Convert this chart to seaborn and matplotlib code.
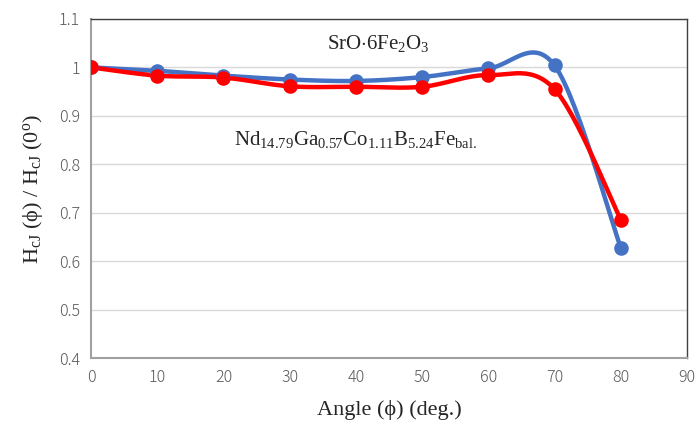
import numpy as np
import pandas as pd
import matplotlib
matplotlib.use("Agg")
import matplotlib.pyplot as plt
import seaborn as sns

# Données
angles = [0, 10, 20, 30, 40, 50, 60, 70, 80]
ferrite = [1.000, 0.993, 0.983, 0.975, 0.972, 0.980, 0.998, 1.004, 0.628]
ndfeb = [1.000, 0.983, 0.979, 0.961, 0.960, 0.960, 0.984, 0.955, 0.686]
x_ticks = [0, 10, 20, 30, 40, 50, 60, 70, 80, 90]
y_ticks = [0.4, 0.5, 0.6, 0.7, 0.8, 0.9, 1.0, 1.1]
y_tick_labels = ["0.4", "0.5", "0.6", "0.7", "0.8", "0.9", "1", "1.1"]


def smooth(x, y, n=30):
    # Lissage type Excel (Catmull-Rom en Bézier)
    p = np.column_stack([np.asarray(x, float), np.asarray(y, float)])
    pts = [p[0]]
    t = np.linspace(0, 1, n)[1:]
    for i in range(len(p) - 1):
        p0 = p[i - 1] if i > 0 else p[i]
        p1 = p[i]
        p2 = p[i + 1]
        p3 = p[i + 2] if i + 2 < len(p) else p[i + 1]
        c1 = p1 + (p2 - p0) / 6
        c2 = p2 - (p3 - p1) / 6
        for tt in t:
            b = ((1 - tt) ** 3) * p1 + 3 * ((1 - tt) ** 2) * tt * c1 \
                + 3 * (1 - tt) * tt ** 2 * c2 + tt ** 3 * p2
            pts.append(b)
    pts = np.array(pts)
    return pd.DataFrame({"x": pts[:, 0], "y": pts[:, 1]})


sns.set_style("white")
plt.rcParams["mathtext.fontset"] = "custom"
plt.rcParams["mathtext.rm"] = "Liberation Serif"
plt.rcParams["mathtext.it"] = "Liberation Serif:italic"
plt.rcParams["mathtext.bf"] = "Liberation Serif:bold"

fig = plt.figure(figsize=(6.95, 4.3), dpi=100)
ax = fig.add_axes([0.131, 0.167, 0.8575, 0.789])

for vals, col in [(ferrite, "#4472C4"), (ndfeb, "#FF0000")]:
    curve = smooth(angles, vals)
    sns.lineplot(data=curve, x="x", y="y", ax=ax, color=col, lw=3.2,
                 sort=False, estimator=None)
    pts = pd.DataFrame({"x": angles, "y": vals})
    sns.scatterplot(data=pts, x="x", y="y", ax=ax, color=col, s=110,
                    edgecolor=col, linewidth=0, zorder=3)

ax.set_xlim(0, 90)
ax.set_ylim(0.4, 1.1)
ax.set_xticks(x_ticks)
ax.set_yticks(y_ticks)
ax.set_yticklabels(y_tick_labels)
ax.tick_params(length=0, labelsize=11.5, labelcolor="#595959", pad=8)
for lab in ax.get_xticklabels() + ax.get_yticklabels():
    lab.set_family("Noto Sans CJK JP")
    lab.set_fontweight("light")
ax.grid(axis="y", color="#d9d9d9", lw=1)
ax.set_axisbelow(True)

for s in ["left", "bottom"]:
    ax.spines[s].set_color("#a0a0a0")
    ax.spines[s].set_linewidth(1.5)
for s in ["top", "right"]:
    ax.spines[s].set_color("#404040")
    ax.spines[s].set_linewidth(1)

serif = "Liberation Serif"
ax.set_xlabel("Angle (ϕ) (deg.)", family=serif, fontsize=16, labelpad=10)
ax.set_ylabel(r"H$_{\mathrm{cJ}}$ (ϕ) / H$_{\mathrm{cJ}}$ (0$^{\mathrm{o}}$)",
              family=serif, fontsize=16, labelpad=10)

ax.text(43.4, 1.05, r"SrO$\mathbf{\cdot}$6Fe$_2$O$_3$", family=serif,
        fontsize=15, ha="center", va="center")
ax.text(39.9, 0.851,
        r"Nd$_{14.79}$Ga$_{0.57}$Co$_{1.11}$B$_{5.24}$Fe$_{\mathrm{bal.}}$",
        family=serif, fontsize=15, ha="center", va="center")

fig.savefig("out.png", dpi=100)
